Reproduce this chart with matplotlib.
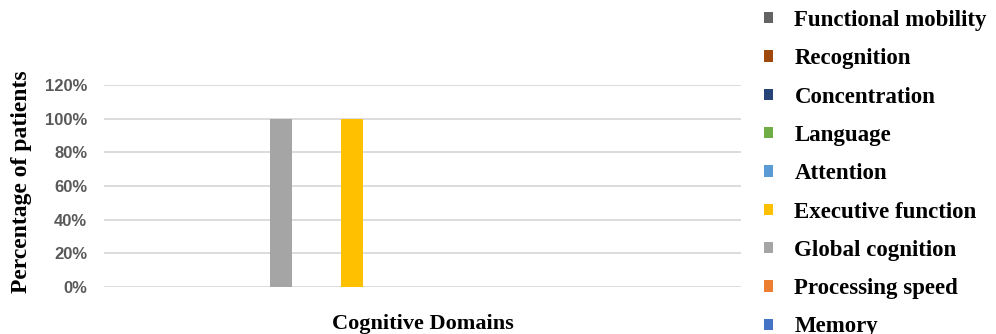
import matplotlib
matplotlib.use("Agg")
import matplotlib.pyplot as plt
import numpy as np

domains = ["Memory", "Processing speed", "Global cognition", "Executive function",
           "Attention", "Language", "Concentration", "Recognition", "Functional mobility"]
percent = [0, 0, 1.0, 1.0, 0, 0, 0, 0, 0]
colors = ["#4472C4", "#ED7D31", "#A5A5A5", "#FFC000", "#5B9BD5",
          "#70AD47", "#264478", "#9E480E", "#636363"]
yticks = [0, 0.2, 0.4, 0.6, 0.8, 1.0, 1.2]

serif = ["Liberation Serif", "DejaVu Serif"]
tick_font = ["Liberation Sans Narrow", "Liberation Sans", "DejaVu Sans"]

fig = plt.figure(figsize=(9.96, 3.34), dpi=100)
ax = fig.add_axes([0.1044, 0.1407, 0.6396, 0.6048])

x = np.arange(len(domains))
bars = []
for i in range(len(domains)):
    b = ax.bar(x[i], percent[i], width=0.31, color=colors[i], linewidth=0,
               label=domains[i], zorder=3)
    bars.append(b)

ax.set_xlim(-0.5, len(domains) - 0.5)
ax.set_ylim(0, 1.2)
ax.set_yticks(yticks)
ax.set_yticklabels([f"{int(round(v * 100))}%" for v in yticks],
                   fontfamily=tick_font, fontweight="bold", fontsize=12, color="#595959")
ax.set_xticks([])
ax.tick_params(axis="y", length=0, pad=12)
ax.yaxis.grid(True, color="#d9d9d9", linewidth=1.3, zorder=0)
for s in ax.spines.values():
    s.set_visible(False)

ax.set_ylabel("Percentage of patients", fontfamily=serif, fontweight="bold", fontsize=17)
ax.yaxis.set_label_coords(-0.113, 0.52)
ax.set_xlabel("Cognitive Domains", fontfamily=serif, fontweight="bold", fontsize=16)
ax.xaxis.set_label_coords(0.5, -0.135)

leg = fig.legend(handles=bars[::-1], labels=domains[::-1], loc="upper left",
                 bbox_to_anchor=(0.767, 0.970), frameon=False,
                 prop={"family": serif, "weight": "bold", "size": 16.5},
                 borderpad=0, borderaxespad=0,
                 handlelength=0.38, handleheight=0.38, handletextpad=0.95,
                 labelspacing=0.755)

fig.savefig("out.png", dpi=100)
